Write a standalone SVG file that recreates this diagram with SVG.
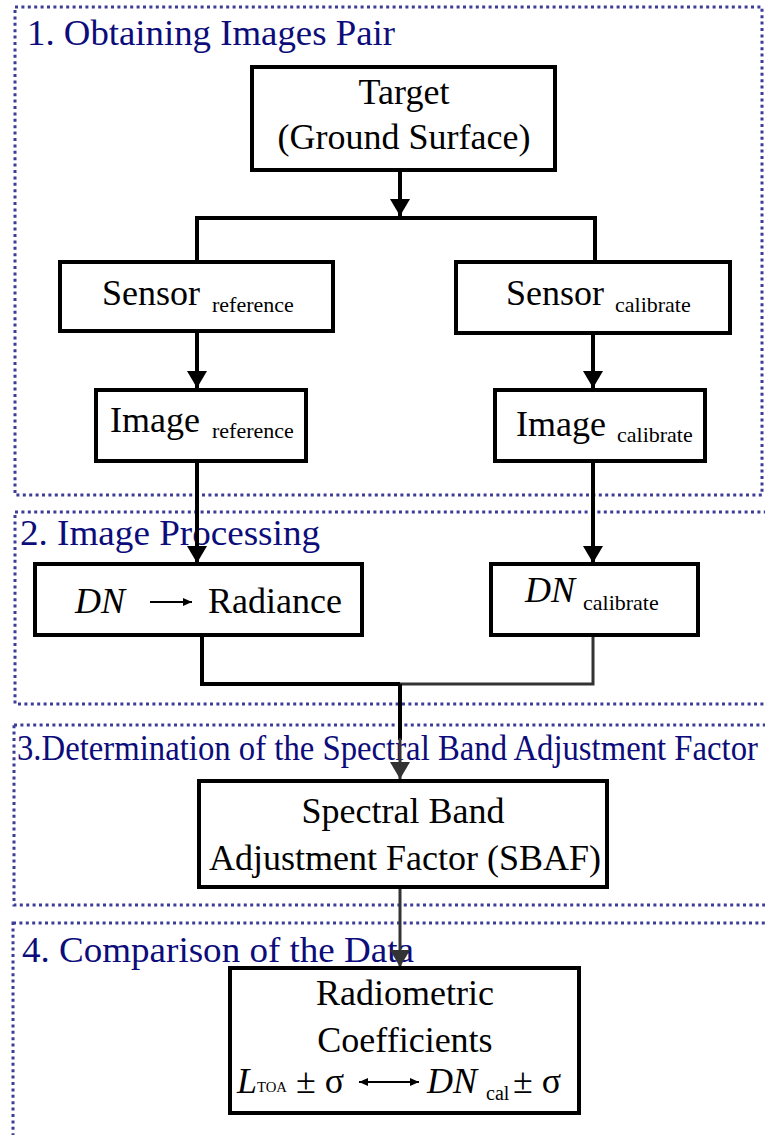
<svg xmlns="http://www.w3.org/2000/svg" width="765" height="1135" viewBox="0 0 765 1135">
  <style>
    .frame { fill: none; stroke: #3d3d98; stroke-width: 3; stroke-dasharray: 3 3.4; }
    .title { font-size: 36px; fill: #0c0c7a; }
    .box { fill: #ffffff; stroke: #000000; stroke-width: 4; }
    .lbl { font-size: 36px; fill: #000000; }
    .sub { font-size: 22px; fill: #000000; }
    .it { font-style: italic; }
    .wire { fill: none; stroke: #000000; stroke-width: 4; }
    .wire2 { fill: none; stroke: #333333; stroke-width: 3; }
  </style>
  <defs>
    <marker id="head" markerUnits="userSpaceOnUse" markerWidth="22" markerHeight="20" refX="17" refY="10" orient="auto">
      <path d="M0,0 L17,10 L0,20 Z" fill="#000000"/>
    </marker>
    <marker id="head2" markerUnits="userSpaceOnUse" markerWidth="22" markerHeight="20" refX="17" refY="10" orient="auto">
      <path d="M0,0 L17,10 L0,20 Z" fill="#333333"/>
    </marker>
    <marker id="tiny" markerUnits="userSpaceOnUse" markerWidth="10" markerHeight="10" refX="9" refY="5" orient="auto-start-reverse">
      <path d="M0,1 L9,5 L0,9 Z" fill="#000000"/>
    </marker>
  </defs>

  <g font-family="'Liberation Serif', 'Times New Roman', serif">
  <!-- stage frames -->
  <g id="stages">
    <rect class="frame" x="15" y="7" width="747" height="488"/>
    <rect class="frame" x="15" y="512" width="755" height="192"/>
    <rect class="frame" x="14" y="725" width="756" height="180"/>
    <rect class="frame" x="13" y="923" width="757" height="220"/>
    <text class="title" x="27" y="45" textLength="368" lengthAdjust="spacingAndGlyphs">1. Obtaining Images Pair</text>
    <text class="title" x="20" y="545" textLength="300" lengthAdjust="spacingAndGlyphs">2. Image Processing</text>
    <text class="title" x="17" y="760" textLength="741" lengthAdjust="spacingAndGlyphs">3.Determination of the Spectral Band Adjustment Factor</text>
    <text class="title" x="22" y="962" textLength="392" lengthAdjust="spacingAndGlyphs">4. Comparison of the Data</text>
  </g>

  <!-- connectors -->
  <g id="connectors">
    <path class="wire" d="M400,170 V216" marker-end="url(#head)"/>
    <path class="wire" d="M197,262 V218 H595 V262"/>
    <path class="wire" d="M197,331 V388" marker-end="url(#head)"/>
    <path class="wire" d="M593,333 V388" marker-end="url(#head)"/>
    <path class="wire" d="M197,461 V563" marker-end="url(#head)"/>
    <path class="wire" d="M593,461 V563" marker-end="url(#head)"/>
    <path class="wire" d="M202,635 V684 H400"/>
    <path class="wire2" d="M593,635 V684 H400"/>
    <path class="wire" d="M400,684 V740"/>
    <path class="wire2" d="M400,738 V779" marker-end="url(#head2)"/>
    <path class="wire2" d="M400,888 V967" marker-end="url(#head2)"/>
  </g>

  <g id="target">
    <rect class="box" x="252" y="67" width="303" height="103"/>
    <text class="lbl" x="404" y="104" text-anchor="middle">Target</text>
    <text class="lbl" x="404" y="149" text-anchor="middle">(Ground Surface)</text>
  </g>

  <g id="sensor-reference">
    <rect class="box" x="60" y="262" width="273" height="69"/>
    <text class="lbl" x="102" y="305">Sensor</text>
    <text class="sub" x="212" y="312">reference</text>
  </g>

  <g id="sensor-calibrate">
    <rect class="box" x="456" y="262" width="274" height="71"/>
    <text class="lbl" x="506" y="305">Sensor</text>
    <text class="sub" x="615" y="312">calibrate</text>
  </g>

  <g id="image-reference">
    <rect class="box" x="96" y="390" width="210" height="71"/>
    <text class="lbl" x="110" y="432">Image</text>
    <text class="sub" x="212" y="438">reference</text>
  </g>

  <g id="image-calibrate">
    <rect class="box" x="495" y="390" width="210" height="71"/>
    <text class="lbl" x="516" y="436">Image</text>
    <text class="sub" x="617" y="442">calibrate</text>
  </g>

  <g id="dn-radiance">
    <rect class="box" x="35" y="564" width="327" height="71"/>
    <text class="lbl it" x="75" y="613">DN</text>
    <line x1="150" y1="602" x2="192" y2="602" stroke="#000" stroke-width="2" marker-end="url(#tiny)"/>
    <text class="lbl" x="208" y="613">Radiance</text>
  </g>

  <g id="dn-calibrate">
    <rect class="box" x="491" y="564" width="207" height="71"/>
    <text class="lbl it" x="525" y="602">DN</text>
    <text class="sub" x="583" y="610">calibrate</text>
  </g>

  <g id="sbaf">
    <rect class="box" x="199" y="781" width="408" height="106" stroke-width="6"/>
    <text class="lbl" x="403" y="823" text-anchor="middle">Spectral Band</text>
    <text class="lbl" x="405" y="870" text-anchor="middle">Adjustment Factor (SBAF)</text>
  </g>

  <g id="radiometric">
    <rect class="box" x="230" y="968" width="349" height="145"/>
    <text class="lbl" x="405" y="1005" text-anchor="middle">Radiometric</text>
    <text class="lbl" x="405" y="1052" text-anchor="middle">Coefficients</text>
    <text class="lbl it" x="237" y="1093">L</text>
    <text x="257" y="1092" font-size="14px" textLength="30" lengthAdjust="spacingAndGlyphs">TOA</text>
    <text class="lbl" x="296" y="1093">± σ</text>
    <line x1="359" y1="1082" x2="419" y2="1082" stroke="#000" stroke-width="2" marker-start="url(#tiny)" marker-end="url(#tiny)"/>
    <text class="lbl it" x="427" y="1093">DN</text>
    <text x="486" y="1100" font-size="20px">cal</text>
    <text class="lbl" x="513" y="1093">± σ</text>
  </g>
  </g>
</svg>
